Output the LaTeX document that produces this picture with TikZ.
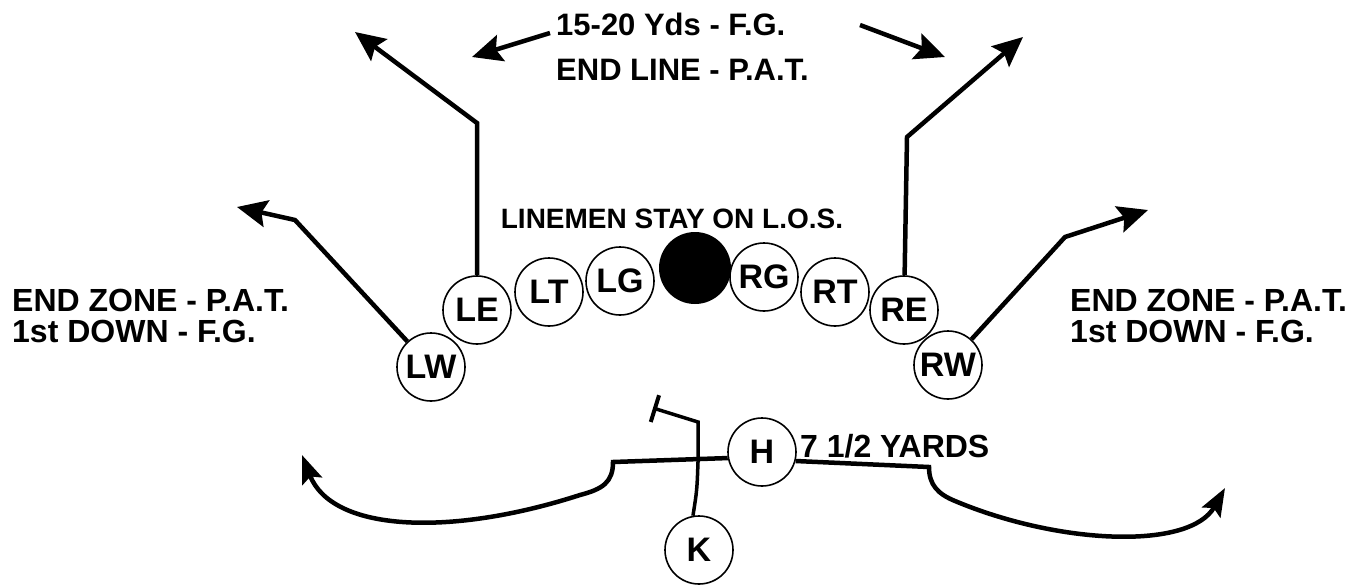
\documentclass[tikz,border=0pt]{standalone}
\usepackage{fontspec}
\setmainfont{Liberation Sans}
\usetikzlibrary{arrows.meta, positioning}

\begin{document}
\begin{tikzpicture}[
    x=1pt, y=-1pt,
    player/.style={circle, draw, line width=1.6pt, minimum size=68pt, inner sep=0pt, font=\fontsize{34}{36}\selectfont\bfseries},
    ball/.style={circle, fill=black, minimum size=72pt, inner sep=0pt},
    note/.style={inner sep=0pt, align=left, font=\fontsize{32}{31}\selectfont\bfseries},
    route/.style={line width=4.5pt, -{Stealth[length=30pt, width=27pt, inset=5pt]}},
    curve/.style={line width=4.5pt, -{Stealth[length=28pt, width=21pt, inset=5pt]}},
    block/.style={line width=3.5pt, -{Bar[width=28pt, line width=4pt]}}
]
\useasboundingbox (0,0) rectangle (1368,587);

% line of scrimmage
\node[player] (LW) at (431,367) {LW};
\node[player] (LE) at (477,310) {LE};
\node[player] (LT) at (549,292) {LT};
\node[player] (LG) at (620,281) {LG};
\node[ball]   (C)  at (695,268) {};
\node[player] (RG) at (764,277) {RG};
\node[player] (RT) at (835,292) {RT};
\node[player] (RE) at (904,310) {RE};
\node[player] (RW) at (948,365) {RW};

% backs
\node[player] (H) at (762,452) {H};
\node[player] (K) at (699,550) {K};

% texts
\node[note, anchor=base west, font=\fontsize{31}{45}\selectfont\bfseries] (fg) at (556,80) {15-20 Yds - F.G.\\END LINE - P.A.T.};
\node[note, anchor=base, font=\fontsize{28}{30}\selectfont\bfseries] (los) at (672,228) {LINEMEN STAY ON L.O.S.};
\node[note, anchor=base west] (zoneL) at (12,342) {END ZONE - P.A.T.\\1st DOWN - F.G.};
\node[note, anchor=base west] (zoneR) at (1070,342) {END ZONE - P.A.T.\\1st DOWN - F.G.};
\node[note, anchor=base west] (yds) at (800,457) {7 1/2 YARDS};

% route points
\coordinate (LWcut) at (295,220);
\coordinate (LWend) at (237,207);
\coordinate (LEcut) at (477,123);
\coordinate (LEend) at (355,32);
\coordinate (REcut) at (907,137);
\coordinate (REend) at (1023,37);
\coordinate (RWcut) at (1065,237);
\coordinate (RWend) at (1148,210);
\coordinate (fgL) at (550,33);
\coordinate (fgLend) at (472,57);
\coordinate (fgR) at (860,25);
\coordinate (fgRend) at (945,57);

\draw[route] (LW) -- (LWcut) -- (LWend);
\draw[route] (LE) -- (LEcut) -- (LEend);
\draw[route] (RE) -- (REcut) -- (REend);
\draw[route] (RW) -- (RWcut) -- (RWend);
\draw[route] (fgL) -- (fgLend);
\draw[route] (fgR) -- (fgRend);

% holder and kicker
\draw[curve] (H.190) -- (613,462) .. controls (613,482) and (603,489) .. (580,495)
    .. controls (450,537) and (332,532) .. (302,455);
\draw[curve] (H.-15) -- (929,467) .. controls (929,485) and (938,494) .. (955,501)
    .. controls (1060,545) and (1190,550) .. (1225,488);
\draw[block] (K.100) .. controls (697,490) .. (698,462) -- (698,422) -- (653,408);

\end{tikzpicture}
\end{document}
